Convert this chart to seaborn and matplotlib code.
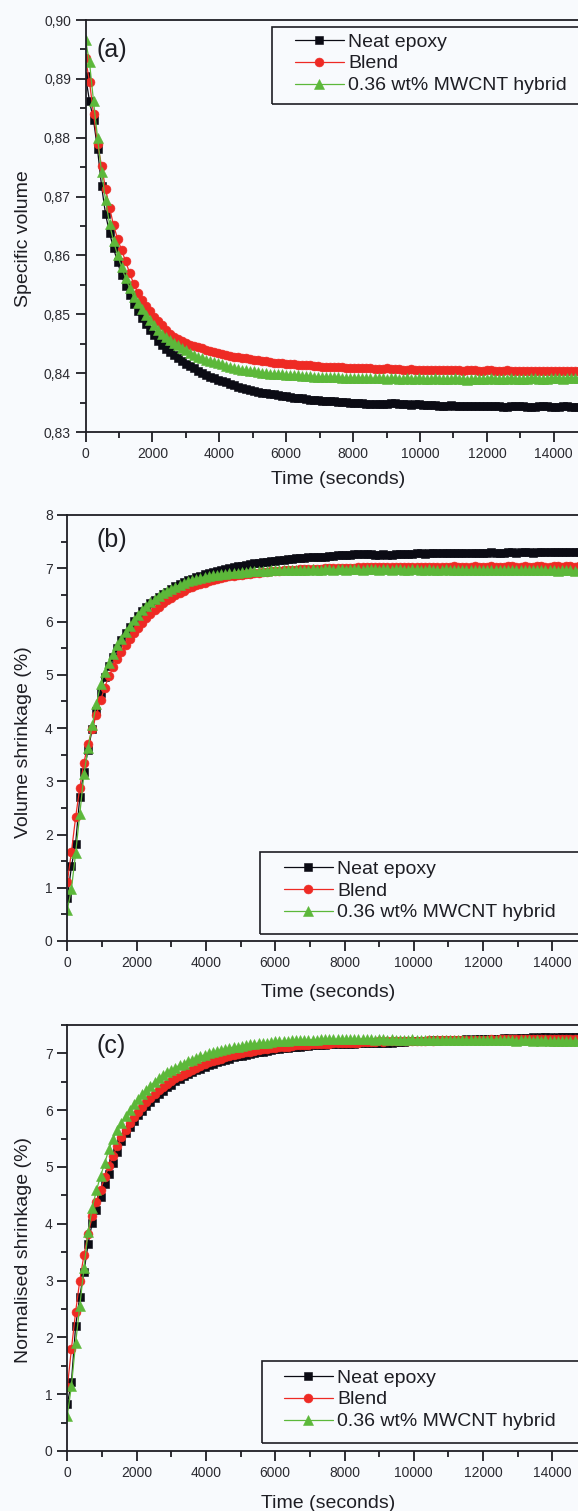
import numpy as np
import matplotlib
matplotlib.use("Agg")
import matplotlib.pyplot as plt
from matplotlib.patches import Rectangle
from matplotlib.ticker import MultipleLocator, FixedLocator, FuncFormatter
import seaborn as sns

# ── Data ──────────────────────────────────────────────────────────────
# sampling interval of the dilatometer readings, seconds
TIME = np.arange(0, 15000, 120)

SERIES = ["Neat epoxy", "Blend", "0.36 wt% MWCNT hybrid"]
X_TICKS = [0, 2000, 4000, 6000, 8000, 10000, 12000, 14000]

# (a) specific volume
vol_neat = [
    0.8905, 0.8862, 0.8830, 0.8780, 0.8718, 0.8670, 0.8638, 0.8612, 0.8588, 0.8566,
    0.8548, 0.8532, 0.8518, 0.8505, 0.8493, 0.8483, 0.8473, 0.8464, 0.8455, 0.8447,
    0.8441, 0.8436, 0.8431, 0.8426, 0.8421, 0.8416, 0.8412, 0.8408, 0.8404, 0.8400,
    0.8396, 0.8393, 0.8391, 0.8389, 0.8387, 0.8385, 0.8382, 0.8380, 0.8377, 0.8374,
    0.8373, 0.8371, 0.8370, 0.8368, 0.8367, 0.8366, 0.8365, 0.8364, 0.8363, 0.8362,
    0.8361, 0.8359, 0.8358, 0.8357, 0.8357, 0.8356, 0.8355, 0.8354, 0.8354, 0.8353,
    0.8353, 0.8352, 0.8352, 0.8351, 0.8351, 0.8351, 0.8350, 0.8350, 0.8349, 0.8349,
    0.8348, 0.8348, 0.8348, 0.8347, 0.8348, 0.8348, 0.8349, 0.8349, 0.8348, 0.8347,
    0.8347, 0.8346, 0.8347, 0.8347, 0.8346, 0.8346, 0.8346, 0.8346, 0.8345, 0.8345,
    0.8345, 0.8346, 0.8345, 0.8345, 0.8344, 0.8344, 0.8345, 0.8345, 0.8345, 0.8344,
    0.8345, 0.8345, 0.8344, 0.8344, 0.8343, 0.8343, 0.8344, 0.8344, 0.8344, 0.8344,
    0.8343, 0.8343, 0.8343, 0.8344, 0.8344, 0.8344, 0.8343, 0.8343, 0.8343, 0.8344,
    0.8344, 0.8343, 0.8343, 0.8343, 0.8343,
]
vol_blend = [
    0.8935, 0.8895, 0.8840, 0.8790, 0.8752, 0.8713, 0.8681, 0.8651, 0.8628, 0.8609,
    0.8590, 0.8570, 0.8552, 0.8537, 0.8525, 0.8514, 0.8505, 0.8496, 0.8488, 0.8481,
    0.8474, 0.8467, 0.8462, 0.8458, 0.8454, 0.8451, 0.8448, 0.8446, 0.8444, 0.8442,
    0.8440, 0.8438, 0.8436, 0.8434, 0.8432, 0.8431, 0.8429, 0.8428, 0.8427, 0.8426,
    0.8425, 0.8424, 0.8423, 0.8422, 0.8421, 0.8420, 0.8419, 0.8418, 0.8418, 0.8417,
    0.8416, 0.8416, 0.8415, 0.8414, 0.8414, 0.8413, 0.8413, 0.8412, 0.8412, 0.8411,
    0.8411, 0.8411, 0.8410, 0.8410, 0.8410, 0.8409, 0.8409, 0.8409, 0.8408, 0.8408,
    0.8408, 0.8408, 0.8407, 0.8407, 0.8407, 0.8408, 0.8407, 0.8407, 0.8407, 0.8406,
    0.8406, 0.8407, 0.8406, 0.8406, 0.8406, 0.8405, 0.8406, 0.8406, 0.8405, 0.8405,
    0.8406, 0.8405, 0.8405, 0.8405, 0.8404, 0.8405, 0.8405, 0.8405, 0.8404, 0.8404,
    0.8405, 0.8405, 0.8404, 0.8404, 0.8404, 0.8405, 0.8404, 0.8404, 0.8404, 0.8403,
    0.8404, 0.8404, 0.8403, 0.8403, 0.8404, 0.8404, 0.8403, 0.8403, 0.8403, 0.8403,
    0.8403, 0.8404, 0.8403, 0.8403, 0.8403,
]
vol_hybrid = [
    0.8966, 0.8928, 0.8862, 0.8800, 0.8742, 0.8694, 0.8653, 0.8624, 0.8600, 0.8580,
    0.8561, 0.8545, 0.8530, 0.8519, 0.8509, 0.8499, 0.8490, 0.8482, 0.8474, 0.8467,
    0.8461, 0.8456, 0.8451, 0.8447, 0.8443, 0.8439, 0.8435, 0.8431, 0.8428, 0.8425,
    0.8423, 0.8421, 0.8419, 0.8417, 0.8415, 0.8412, 0.8410, 0.8409, 0.8407, 0.8406,
    0.8405, 0.8404, 0.8403, 0.8402, 0.8401, 0.8400, 0.8399, 0.8399, 0.8398, 0.8398,
    0.8397, 0.8397, 0.8396, 0.8396, 0.8395, 0.8395, 0.8395, 0.8394, 0.8394, 0.8394,
    0.8393, 0.8393, 0.8393, 0.8393, 0.8392, 0.8392, 0.8392, 0.8392, 0.8392, 0.8391,
    0.8391, 0.8391, 0.8391, 0.8391, 0.8391, 0.8390, 0.8391, 0.8391, 0.8390, 0.8390,
    0.8391, 0.8390, 0.8390, 0.8391, 0.8390, 0.8390, 0.8390, 0.8391, 0.8390, 0.8390,
    0.8390, 0.8390, 0.8391, 0.8390, 0.8390, 0.8389, 0.8390, 0.8390, 0.8390, 0.8390,
    0.8390, 0.8391, 0.8390, 0.8390, 0.8390, 0.8390, 0.8391, 0.8390, 0.8390, 0.8390,
    0.8390, 0.8391, 0.8391, 0.8390, 0.8390, 0.8390, 0.8391, 0.8391, 0.8391, 0.8390,
    0.8391, 0.8391, 0.8391, 0.8391, 0.8391,
]

# (b) volume shrinkage, %
shr_neat = [
    0.80, 1.40, 1.83, 2.70, 3.18, 3.59, 3.98, 4.32, 4.65, 4.95,
    5.16, 5.34, 5.51, 5.65, 5.78, 5.90, 6.01, 6.10, 6.19, 6.27,
    6.34, 6.40, 6.46, 6.51, 6.56, 6.61, 6.66, 6.70, 6.74, 6.77,
    6.80, 6.83, 6.86, 6.89, 6.91, 6.93, 6.95, 6.97, 6.99, 7.01,
    7.02, 7.04, 7.05, 7.07, 7.08, 7.09, 7.10, 7.11, 7.12, 7.13,
    7.14, 7.15, 7.16, 7.17, 7.18, 7.19, 7.19, 7.20, 7.21, 7.21,
    7.21, 7.22, 7.22, 7.23, 7.23, 7.24, 7.24, 7.25, 7.25, 7.26,
    7.26, 7.27, 7.27, 7.26, 7.25, 7.25, 7.26, 7.25, 7.25, 7.26,
    7.26, 7.27, 7.27, 7.27, 7.28, 7.28, 7.27, 7.28, 7.28, 7.28,
    7.28, 7.29, 7.28, 7.28, 7.29, 7.29, 7.29, 7.28, 7.29, 7.29,
    7.29, 7.29, 7.30, 7.29, 7.29, 7.29, 7.30, 7.30, 7.29, 7.30,
    7.30, 7.30, 7.29, 7.30, 7.30, 7.30, 7.30, 7.31, 7.30, 7.30,
    7.30, 7.30, 7.31, 7.30, 7.30,
]
shr_blend = [
    1.10, 1.68, 2.32, 2.88, 3.35, 3.70, 3.98, 4.25, 4.52, 4.76,
    4.97, 5.14, 5.29, 5.43, 5.55, 5.67, 5.78, 5.88, 5.97, 6.06,
    6.14, 6.21, 6.28, 6.34, 6.40, 6.45, 6.50, 6.54, 6.58, 6.62,
    6.65, 6.68, 6.71, 6.73, 6.76, 6.78, 6.80, 6.82, 6.83, 6.85,
    6.86, 6.87, 6.88, 6.89, 6.90, 6.91, 6.92, 6.93, 6.93, 6.94,
    6.95, 6.95, 6.96, 6.96, 6.97, 6.97, 6.98, 6.98, 6.98, 6.99,
    6.99, 6.99, 7.00, 7.00, 7.00, 7.00, 7.01, 7.01, 7.01, 7.01,
    7.02, 7.02, 7.02, 7.02, 7.02, 7.03, 7.02, 7.02, 7.03, 7.03,
    7.02, 7.03, 7.03, 7.03, 7.02, 7.03, 7.03, 7.03, 7.03, 7.02,
    7.03, 7.03, 7.03, 7.04, 7.03, 7.03, 7.03, 7.03, 7.04, 7.03,
    7.03, 7.03, 7.04, 7.03, 7.03, 7.03, 7.04, 7.04, 7.03, 7.03,
    7.04, 7.03, 7.03, 7.04, 7.04, 7.03, 7.03, 7.04, 7.04, 7.03,
    7.04, 7.04, 7.03, 7.04, 7.04,
]
shr_hybrid = [
    0.58, 0.98, 1.65, 2.38, 3.13, 3.63, 4.05, 4.45, 4.82, 5.05,
    5.22, 5.39, 5.55, 5.68, 5.81, 5.92, 6.03, 6.12, 6.21, 6.29,
    6.36, 6.42, 6.48, 6.53, 6.57, 6.61, 6.65, 6.69, 6.72, 6.76,
    6.78, 6.80, 6.82, 6.84, 6.86, 6.87, 6.88, 6.89, 6.90, 6.91,
    6.92, 6.92, 6.93, 6.93, 6.94, 6.94, 6.95, 6.95, 6.95, 6.96,
    6.96, 6.96, 6.96, 6.97, 6.97, 6.97, 6.97, 6.97, 6.97, 6.98,
    6.97, 6.97, 6.98, 6.98, 6.97, 6.98, 6.98, 6.97, 6.98, 6.98,
    6.98, 6.97, 6.98, 6.98, 6.98, 6.97, 6.98, 6.98, 6.97, 6.98,
    6.98, 6.97, 6.97, 6.98, 6.98, 6.97, 6.97, 6.98, 6.97, 6.97,
    6.97, 6.98, 6.97, 6.97, 6.97, 6.96, 6.97, 6.97, 6.97, 6.96,
    6.97, 6.97, 6.96, 6.97, 6.96, 6.96, 6.97, 6.96, 6.96, 6.96,
    6.96, 6.97, 6.96, 6.96, 6.96, 6.96, 6.96, 6.96, 6.95, 6.96,
    6.96, 6.96, 6.95, 6.96, 6.96,
]

# (c) normalised shrinkage, %
nrm_neat = [
    0.82, 1.22, 2.20, 2.72, 3.15, 3.65, 4.02, 4.24, 4.47, 4.70,
    4.88, 5.07, 5.27, 5.45, 5.59, 5.71, 5.81, 5.91, 5.99, 6.07,
    6.14, 6.21, 6.28, 6.34, 6.40, 6.45, 6.51, 6.55, 6.60, 6.64,
    6.67, 6.70, 6.73, 6.76, 6.79, 6.82, 6.84, 6.87, 6.89, 6.91,
    6.93, 6.95, 6.96, 6.98, 6.99, 7.00, 7.02, 7.03, 7.05, 7.06,
    7.07, 7.08, 7.09, 7.10, 7.11, 7.11, 7.12, 7.13, 7.13, 7.14,
    7.14, 7.15, 7.15, 7.16, 7.16, 7.16, 7.17, 7.17, 7.17, 7.17,
    7.18, 7.18, 7.18, 7.18, 7.19, 7.18, 7.19, 7.19, 7.19, 7.20,
    7.20, 7.20, 7.21, 7.21, 7.21, 7.22, 7.22, 7.22, 7.23, 7.22,
    7.23, 7.23, 7.23, 7.24, 7.24, 7.24, 7.25, 7.24, 7.25, 7.25,
    7.25, 7.26, 7.26, 7.26, 7.26, 7.27, 7.27, 7.26, 7.27, 7.27,
    7.27, 7.27, 7.28, 7.27, 7.28, 7.28, 7.28, 7.27, 7.28, 7.28,
    7.28, 7.28, 7.28, 7.28, 7.28,
]
nrm_blend = [
    1.12, 1.80, 2.45, 3.00, 3.45, 3.82, 4.13, 4.38, 4.60, 4.82,
    5.01, 5.20, 5.37, 5.52, 5.65, 5.77, 5.88, 5.97, 6.06, 6.14,
    6.22, 6.29, 6.35, 6.41, 6.46, 6.51, 6.56, 6.60, 6.64, 6.68,
    6.71, 6.75, 6.78, 6.81, 6.84, 6.86, 6.89, 6.91, 6.93, 6.95,
    6.97, 6.99, 7.00, 7.02, 7.03, 7.04, 7.06, 7.07, 7.08, 7.09,
    7.10, 7.11, 7.12, 7.12, 7.13, 7.14, 7.14, 7.15, 7.15, 7.16,
    7.16, 7.17, 7.17, 7.17, 7.18, 7.18, 7.18, 7.19, 7.19, 7.19,
    7.19, 7.20, 7.20, 7.20, 7.20, 7.21, 7.20, 7.21, 7.21, 7.21,
    7.21, 7.22, 7.21, 7.22, 7.22, 7.22, 7.22, 7.23, 7.22, 7.23,
    7.23, 7.23, 7.23, 7.23, 7.24, 7.23, 7.24, 7.24, 7.24, 7.24,
    7.24, 7.24, 7.25, 7.24, 7.25, 7.25, 7.25, 7.25, 7.25, 7.25,
    7.25, 7.25, 7.26, 7.25, 7.26, 7.26, 7.25, 7.26, 7.26, 7.26,
    7.26, 7.26, 7.26, 7.26, 7.26,
]
nrm_hybrid = [
    0.62, 1.15, 1.90, 2.55, 3.22, 3.85, 4.28, 4.59, 4.84, 5.07,
    5.31, 5.50, 5.65, 5.78, 5.90, 6.01, 6.11, 6.20, 6.28, 6.36,
    6.43, 6.50, 6.56, 6.62, 6.67, 6.71, 6.75, 6.79, 6.82, 6.86,
    6.89, 6.92, 6.95, 6.97, 7.00, 7.02, 7.04, 7.06, 7.08, 7.09,
    7.11, 7.12, 7.13, 7.15, 7.16, 7.17, 7.18, 7.19, 7.19, 7.20,
    7.21, 7.21, 7.22, 7.22, 7.23, 7.23, 7.23, 7.24, 7.24, 7.24,
    7.24, 7.25, 7.25, 7.25, 7.25, 7.25, 7.25, 7.25, 7.25, 7.25,
    7.25, 7.25, 7.25, 7.25, 7.24, 7.25, 7.25, 7.24, 7.25, 7.24,
    7.24, 7.24, 7.24, 7.25, 7.24, 7.24, 7.24, 7.24, 7.24, 7.23,
    7.24, 7.24, 7.23, 7.24, 7.24, 7.24, 7.23, 7.24, 7.23, 7.23,
    7.23, 7.23, 7.24, 7.23, 7.23, 7.23, 7.23, 7.23, 7.22, 7.23,
    7.23, 7.23, 7.22, 7.23, 7.22, 7.23, 7.22, 7.22, 7.22, 7.22,
    7.22, 7.22, 7.22, 7.22, 7.22,
]

# ── Style ─────────────────────────────────────────────────────────────
W, H = 578, 1511
BG = "#f8fafd"
INK = "#1e1e24"
COLORS = ["#0b0b14", "#ee2a24", "#5cb83a"]
MARKERS = ["s", "o", "^"]
MSIZES = [6.0, 6.4, 7.6]

sns.set_style("ticks")
plt.rcParams["font.family"] = ["Liberation Sans", "DejaVu Sans"]
plt.rcParams["axes.linewidth"] = 1.3


def fx(px):
    return px / W


def fy(py):
    return 1 - py / H


def draw_panel(fig, rect, series, ylim, ymajor, yminor, yfmt, letter, letter_xy,
               ylabel, ylabel_xy, xlabel_xy, leg_anchor, box):
    ax = fig.add_axes(rect)
    ax.set_facecolor(BG)
    for vals, name, c, m, ms in zip(series, SERIES, COLORS, MARKERS, MSIZES):
        sns.lineplot(x=TIME, y=vals, ax=ax, color=c, marker=m, markersize=ms,
                     markeredgecolor=c, markeredgewidth=0.4, linewidth=0.9,
                     label=name, errorbar=None, sort=False)
    ax.set_xlim(0, 16000)
    ax.set_ylim(*ylim)
    # the panel runs past the right edge of the page; only label what is visible
    ax.xaxis.set_major_locator(FixedLocator(X_TICKS))
    ax.xaxis.set_minor_locator(FixedLocator([t + 1000 for t in X_TICKS]))
    ax.yaxis.set_major_locator(MultipleLocator(ymajor))
    ax.yaxis.set_minor_locator(MultipleLocator(yminor))
    ax.yaxis.set_major_formatter(FuncFormatter(yfmt))
    ax.tick_params(which="major", length=7, width=1.3, pad=3.5,
                   labelsize=10, labelcolor="#2a2a30", color=INK)
    ax.tick_params(which="minor", length=4, width=1.3, color=INK)
    ax.set_xlabel("")
    ax.set_ylabel("")
    for s in ax.spines.values():
        s.set_color(INK)
        s.set_visible(True)

    leg = ax.legend(loc="upper left", bbox_to_anchor=(fx(leg_anchor[0]), fy(leg_anchor[1])),
                    bbox_transform=fig.transFigure, frameon=False, fontsize=14,
                    borderpad=0, borderaxespad=0, labelspacing=0.22,
                    handlelength=2.5, handletextpad=0.25, numpoints=1)
    for t in leg.get_texts():
        t.set_color(INK)

    x0, top, bottom = box
    fig.add_artist(Rectangle((fx(x0), fy(bottom)), fx(700 - x0), (bottom - top) / H,
                             transform=fig.transFigure, fill=False,
                             edgecolor=INK, linewidth=1.2))

    fig.text(fx(letter_xy[0]), fy(letter_xy[1]), letter, fontsize=18,
             color=INK, ha="left", va="center")
    fig.text(fx(ylabel_xy[0]), fy(ylabel_xy[1]), ylabel, rotation=90,
             fontsize=14, color=INK, ha="center", va="center")
    fig.text(fx(xlabel_xy[0]), fy(xlabel_xy[1]), "Time (seconds)",
             fontsize=14, color=INK, ha="center", va="center")
    return ax


fig = plt.figure(figsize=(W / 100, H / 100), dpi=100, facecolor=BG)

draw_panel(fig, [fx(85.5), fy(432), 535.2 / W, 412 / H],
           [vol_neat, vol_blend, vol_hybrid], (0.83, 0.90), 0.01, 0.005,
           lambda v, p: f"{v:.2f}".replace(".", ","),
           "(a)", (97, 50), "Specific volume", (24, 239), (338, 480),
           (295, 33), (272, 27, 104))

draw_panel(fig, [fx(67.3), fy(941), 554.4 / W, 426 / H],
           [shr_neat, shr_blend, shr_hybrid], (0, 8), 1, 0.5,
           lambda v, p: f"{v:.0f}",
           "(b)", (96, 540), "Volume shrinkage (%)", (24, 742), (328, 993),
           (284, 860), (260, 852, 934))

draw_panel(fig, [fx(67.3), fy(1451), 554.4 / W, 426 / H],
           [nrm_neat, nrm_blend, nrm_hybrid], (0, 7.5), 1, 0.5,
           lambda v, p: f"{v:.0f}",
           "(c)", (96, 1046), "Normalised shrinkage (%)", (24, 1250), (328, 1503),
           (284, 1369), (262, 1361, 1443))

fig.savefig("out.png", dpi=100, facecolor=BG)
